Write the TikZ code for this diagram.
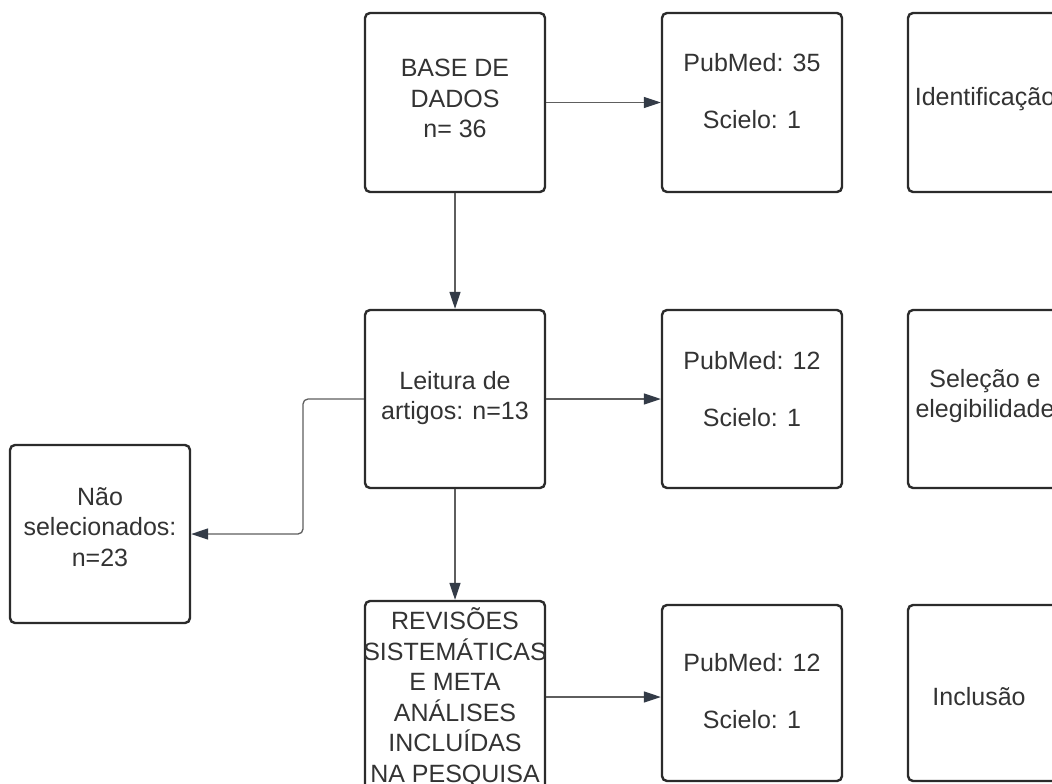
\documentclass[tikz,border=0pt]{standalone}
\usepackage{fontspec}
\setmainfont{Liberation Sans}
\usetikzlibrary{arrows.meta,calc}
\definecolor{boxline}{HTML}{2B2B2B}
\definecolor{txtcol}{HTML}{333333}
\definecolor{conncol}{HTML}{5E5E5E}
\definecolor{tipcol}{HTML}{333B47}
\tikzset{
  box/.style={draw=boxline, line width=2.4pt, rounded corners=5pt, minimum width=180pt, inner sep=0pt},
  txt/.style={text=txtcol, align=center, inner sep=0pt, font={\fontsize{25}{30.5}\selectfont}},
  conn/.style={draw=conncol, line width=1.3pt, -{Triangle[length=17pt,width=11pt,color=tipcol,fill=tipcol]}},
}
\begin{document}
\begin{tikzpicture}[x=1pt,y=-1pt]
\useasboundingbox (0,0) rectangle (1052,784);
\clip (0,0) rectangle (1052,784);
\fill[white] (0,0) rectangle (1052,784);
% boxes
\node[box, minimum height=179pt] (base) at (455,102.5) {};
\node[box, minimum height=179pt] (pub1) at (752,102.5) {};
\node[box, minimum height=179pt] (ident) at (998,102.5) {};
\node[box, minimum height=178pt] (leit) at (455,399) {};
\node[box, minimum height=178pt] (pub2) at (752,399) {};
\node[box, minimum height=178pt] (sel) at (998,399) {};
\node[box, minimum height=178pt] (nao) at (100,534) {};
\node[box, minimum height=192pt] (rev) at (455,697) {};
\node[box, minimum height=176pt] (pub3) at (752,693) {};
\node[box, minimum height=176pt] (incl) at (998,693) {};
% texts
\node[txt] (baset) at (455,98.5) {BASE DE\\DADOS\\n= 36};
\node[txt] (pub1t) at (752,91) {PubMed: 35\\[27pt]Scielo: 1};
\node[txt] (identt) at (985,99) {Identificação};
\node[txt] (leitt) at (455,398) {Leitura de\\artigos: n=13};
\node[txt] (pub2t) at (752,389) {PubMed: 12\\[27pt]Scielo: 1};
\node[txt] (selt) at (985,396) {Seleção e\\elegibilidade};
\node[txt] (naot) at (100,527) {Não\\selecionados:\\n=23};
\node[txt] (revt) at (455,697.5) {REVISÕES\\SISTEMÁTICAS\\E META\\ANÁLISES\\INCLUÍDAS\\NA PESQUISA};
\node[txt] (pub3t) at (752,691) {PubMed: 12\\[27pt]Scielo: 1};
\node[txt] (inclt) at (979,697) {Inclusão};
% connectors
\coordinate (e1) at (303,399);
\coordinate (e2) at (303,534);
\draw[conn] (base.east) -- (pub1.west);
\draw[conn] (base.south) -- (leit.north);
\draw[conn] (leit.east) -- (pub2.west);
\draw[conn] (leit.south) -- (rev.north);
\draw[conn] (rev.east) -- (rev.east -| pub3.west);
\draw[conn, rounded corners=5pt] (leit.west) -- (e1) -- (e2) -- (nao.east);
\end{tikzpicture}
\end{document}
